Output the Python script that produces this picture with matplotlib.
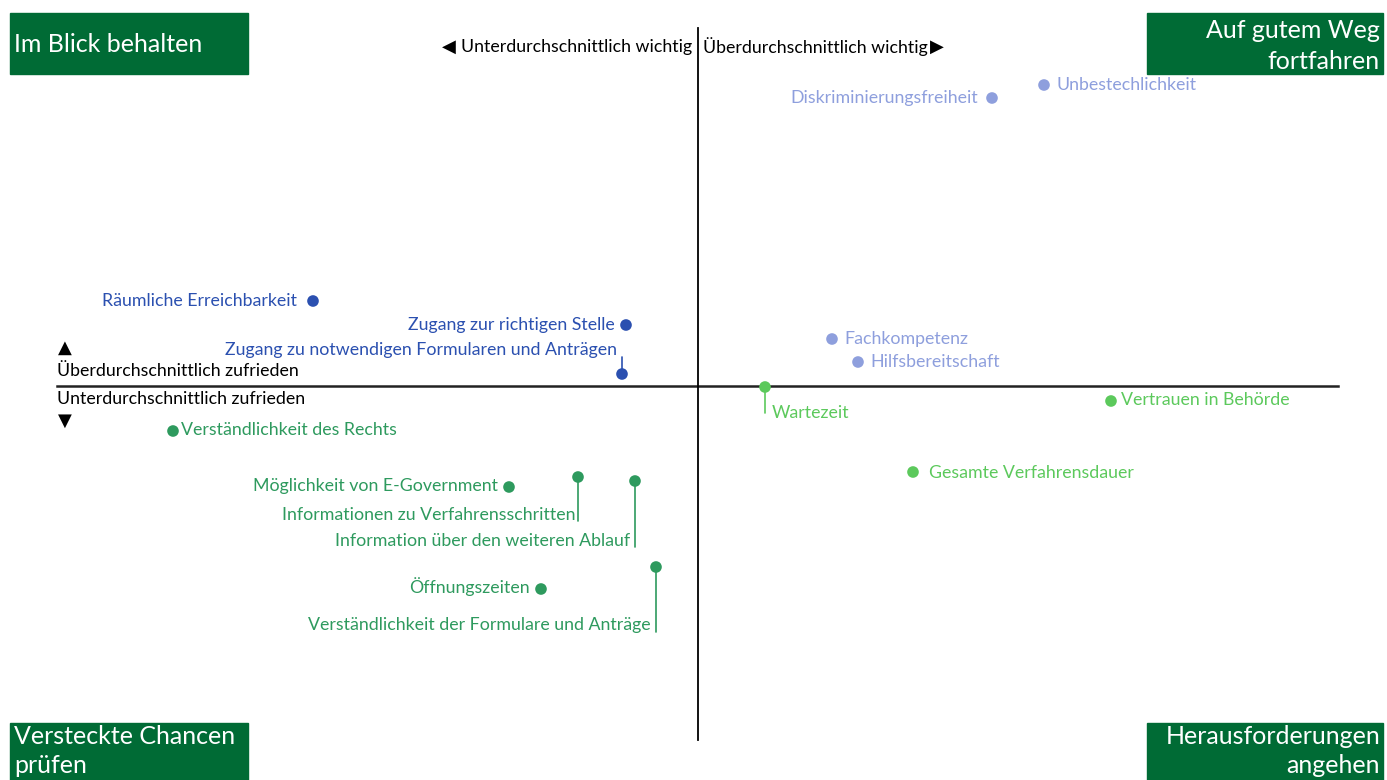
import matplotlib
matplotlib.use("Agg")
import matplotlib.pyplot as plt
from matplotlib.patches import Rectangle

plt.rcParams['font.family'] = ['Lato', 'DejaVu Sans']

# ---------------- data (importance deviation, satisfaction deviation) ----------------
labels = [
    "Unbestechlichkeit", "Diskriminierungsfreiheit", "Fachkompetenz", "Hilfsbereitschaft",
    "Räumliche Erreichbarkeit", "Zugang zur richtigen Stelle",
    "Zugang zu notwendigen Formularen und Anträgen",
    "Wartezeit", "Vertrauen in Behörde", "Gesamte Verfahrensdauer",
    "Verständlichkeit des Rechts", "Möglichkeit von E-Government",
    "Informationen zu Verfahrensschritten", "Information über den weiteren Ablauf",
    "Öffnungszeiten", "Verständlichkeit der Formulare und Anträge",
]
importance = [3.46, 2.94, 1.34, 1.60, -3.85, -0.72, -0.76, 0.67, 4.13, 2.15,
              -5.25, -1.89, -1.20, -0.63, -1.57, -0.42]
satisfaction = [3.01, 2.88, 0.47, 0.24, 0.85, 0.61, 0.12, -0.01, -0.15, -0.86,
                -0.45, -1.01, -0.91, -0.95, -2.03, -1.81]
groups = ["ur", "ur", "ur", "ur", "ul", "ul", "ul", "lr", "lr", "lr",
          "ll", "ll", "ll", "ll", "ll", "ll"]

quadrant_titles = {"ul": "Im Blick behalten", "ur": "Auf gutem Weg\nfortfahren",
                   "ll": "Versteckte Chancen\nprüfen", "lr": "Herausforderungen\nangehen"}
x_neg_label = "Unterdurchschnittlich wichtig"
x_pos_label = "Überdurchschnittlich wichtig"
y_pos_label = "Überdurchschnittlich zufrieden"
y_neg_label = "Unterdurchschnittlich zufrieden"

# ---------------- styles / layout ----------------
colors = {"ur": "#8E9FDD", "ul": "#2B50B0", "lr": "#5CC95C", "ll": "#2E9A5E"}
box_color = "#006B35"
FS = 12.8
# label placement: (dx px, dy px, ha, leader length px (+ down / - up))
placements = [
    (12, 0, "left", 0), (-14, 0, "right", 0), (12, 0, "left", 0), (12, 0, "left", 0),
    (-16, 0, "right", 0), (-11, 0, "right", 0), (-5, 24, "right", -17),
    (7, -26, "left", 26), (10, 1, "left", 0), (16, -1, "left", 0),
    (8, 1, "left", 0), (-11, 1, "right", 0),
    (-3, -38, "right", 44), (-5, -60, "right", 66), (-11, 2, "right", 0),
    (-5, -58, "right", 65),
]

W, H = 1387, 780
fig = plt.figure(figsize=(W / 100, H / 100), dpi=100)
ax = fig.add_axes([0, 0, 1, 1])
cx, cy, s = 698, 386, 100.0
ax.set_xlim(-cx / s, (W - cx) / s)
ax.set_ylim(-(H - cy) / s, cy / s)
ax.axis("off")

# cross lines
ax.plot([(57 - cx) / s, (1338 - cx) / s], [0, 0], color="#222222", lw=1.8, zorder=1)
ax.plot([0, 0], [(cy - 740) / s, (cy - 28) / s], color="black", lw=1.3, zorder=1)

px = 72 / 100.0  # points per pixel
for name, xv, yv, g, (dx, dy, ha, lead) in zip(labels, importance, satisfaction, groups, placements):
    c = colors[g]
    if lead:
        ax.annotate("", xy=(xv, yv), xytext=(0, -lead * px), textcoords="offset points",
                    xycoords="data",
                    arrowprops=dict(arrowstyle="-", color=c, lw=1.2, shrinkA=0, shrinkB=0))
    ax.scatter([xv], [yv], s=70, color=c, zorder=3, edgecolors="none")
    ax.annotate(name, xy=(xv, yv), xytext=(dx * px, dy * px), textcoords="offset points",
                ha=ha, va="center", color=c, fontsize=FS)

# axis descriptions
def P(xp, yp):
    return (xp - cx) / s, (cy - yp) / s

ax.text(*P(692, 47), x_neg_label, ha="right", va="center", fontsize=FS, color="black")
ax.text(*P(449, 47), "◀", ha="center", va="center", fontsize=13, color="black",
        family="DejaVu Sans")
ax.text(*P(703, 47), x_pos_label, ha="left", va="center", fontsize=FS, color="black")
ax.text(*P(937, 47), "▶", ha="center", va="center", fontsize=13, color="black",
        family="DejaVu Sans")
ax.text(*P(65, 348), "▲", ha="center", va="center", fontsize=13, color="black",
        family="DejaVu Sans")
ax.text(*P(57, 371), y_pos_label, ha="left", va="center", fontsize=FS, color="black")
ax.text(*P(57, 399), y_neg_label, ha="left", va="center", fontsize=FS, color="black")
ax.text(*P(65, 421), "▼", ha="center", va="center", fontsize=13, color="black",
        family="DejaVu Sans")

# quadrant boxes
boxes = {"ul": (10, 13, 238, 61, "left"), "ur": (1147, 13, 236, 61, "right"),
         "ll": (10, 723, 238, 70, "left"), "lr": (1147, 723, 236, 70, "right")}
for key, (bx, by, bw, bh, ha) in boxes.items():
    fig.patches.append(Rectangle((bx / W, 1 - (by + bh) / H), bw / W, bh / H,
                                 transform=fig.transFigure, color=box_color, zorder=0))
    tx = (bx + 4) / W if ha == "left" else (bx + bw - 3) / W
    if key == "ul":
        fig.text(tx, 1 - 45 / H, quadrant_titles[key], ha=ha, va="center",
                 color="white", fontsize=18)
    elif key == "ur":
        fig.text(tx, 1 - 46 / H, quadrant_titles[key], ha=ha, va="center",
                 color="white", fontsize=18, linespacing=1.4)
    else:
        fig.text(tx, 1 - 751 / H, quadrant_titles[key], ha=ha, va="center",
                 color="white", fontsize=18, linespacing=1.3)

fig.savefig("out.png", dpi=100)
